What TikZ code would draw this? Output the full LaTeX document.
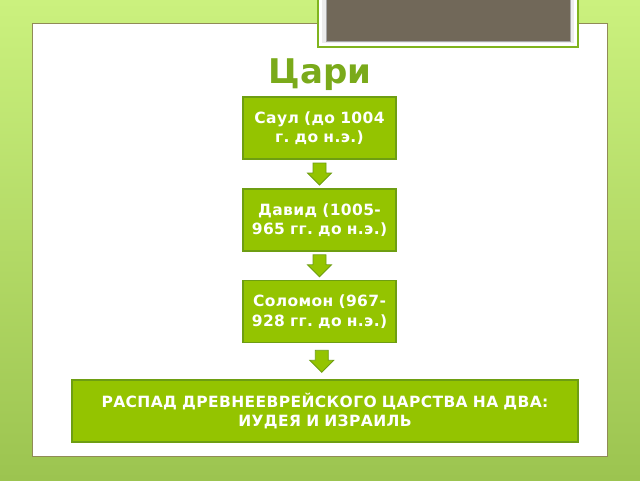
\documentclass[tikz,border=0pt]{standalone}
\usepackage{fontspec}
\setmainfont{DejaVu Sans}
\newfontfamily\boxfont[LetterSpace=2.5]{DejaVu Sans}
\usetikzlibrary{calc}
\definecolor{bgtop}{HTML}{CBF17E}
\definecolor{bgbot}{HTML}{9CC450}
\definecolor{boxfill}{HTML}{94C400}
\definecolor{boxline}{HTML}{6E9E12}
\definecolor{titlecol}{HTML}{7AAA1A}
\definecolor{taupe}{HTML}{716859}
\definecolor{tabline}{HTML}{80B41E}
\tikzset{
  kingbox/.style={draw=boxline, line width=1.2pt, fill=boxfill, text=white,
    minimum width=153pt, minimum height=62pt, text width=152pt, align=center,
    inner sep=0pt, font=\boxfont\fontsize{15.5}{19.5}\selectfont\bfseries\frenchspacing},
  blockarrow/.pic={\draw[draw=boxline, line width=0.8pt, fill=boxfill, line join=miter]
    (-6.5,-11) -- (6.5,-11) -- (6.5,-1) -- (12,-1) -- (0,11) -- (-12,-1) -- (-6.5,-1) -- cycle;}
}
\begin{document}
\begin{tikzpicture}[x=1pt,y=-1pt]
\useasboundingbox (0,0) rectangle (640,480);
% background
\shade[top color=bgtop, bottom color=bgbot] (0,0) rectangle (640,480);
% white panel
\fill[white] (32,23) rectangle (607,456);
\draw[gray!60!olive, line width=0.7pt] (32,23) rectangle (607,456);
% top tab
\fill[white] (318,-2) rectangle (578,47);
\draw[tabline, line width=1.5pt] (318,-2) rectangle (578,47);
\fill[gray!15] (322,-2) rectangle (574,43);
\fill[taupe] (326,-2) rectangle (570,41);
\draw[gray!70, line width=0.5pt] (326,-2) rectangle (570,41);
% title
\node[text=titlecol, font=\fontsize{34}{40}\selectfont\bfseries] (title) at (320,75) {Цари};
% boxes
\node[kingbox] (saul) at (319.5,128) {Саул (до 1004\\г. до н.э.)};
\node[kingbox] (david) at (319.5,220) {Давид (1005-\\965 гг. до н.э.)};
\node[kingbox] (solomon) at (319.5,311.5) {Соломон (967-\\928 гг. до н.э.)};
\node[kingbox, minimum width=506pt, text width=500pt] (split) at (325,411) {РАСПАД ДРЕВНЕЕВРЕЙСКОГО ЦАРСТВА НА ДВА:\\ИУДЕЯ И ИЗРАИЛЬ};
% arrows
\coordinate (a1) at ($(saul.south)!0.5!(david.north)$);
\coordinate (a2) at ($(david.south)!0.5!(solomon.north)$);
\coordinate (a3) at ($(solomon.south)!0.5!(split.north)+(-0.5,0)$);
\pic at (a1) {blockarrow};
\pic at (a2) {blockarrow};
\pic at (a3) {blockarrow};
\end{tikzpicture}
\end{document}
